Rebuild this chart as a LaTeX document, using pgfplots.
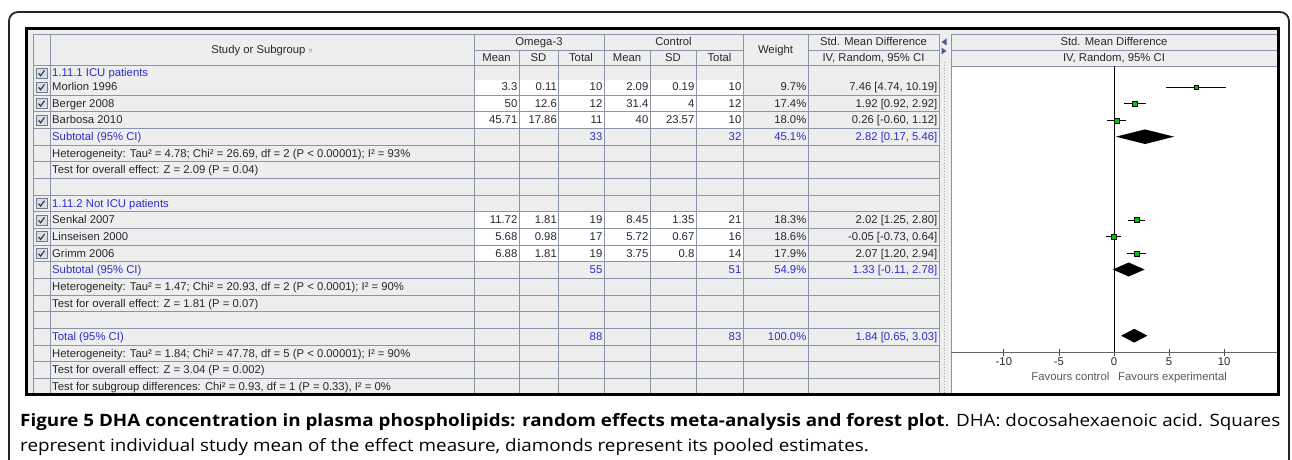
\documentclass[border=0pt]{standalone}
\usepackage{pgfplots}
\pgfplotsset{compat=1.18}
\usepackage{graphicx}
\usepackage{fontspec}
\setmainfont{Liberation Sans}
\newfontfamily\capfont{Open Sans}
\newfontfamily\dejavu{DejaVu Sans}
\definecolor{bg}{RGB}{238,238,238}
\definecolor{gridc}{RGB}{138,150,166}
\definecolor{txt}{RGB}{40,40,40}
\definecolor{blu}{RGB}{45,45,205}
\definecolor{grn}{RGB}{0,200,0}
\definecolor{cbfill}{RGB}{215,222,232}
\definecolor{cbdraw}{RGB}{110,125,145}
\definecolor{arr}{RGB}{70,95,140}
\newcommand{\drow}[9]{%
  \node[anchor=base east] at (517.5,#1) {#2};
  \node[anchor=base east] at (557,#1) {#3};
  \node[anchor=base east] at (602.5,#1) {#4};
  \node[anchor=base east] at (648.5,#1) {#5};
  \node[anchor=base east] at (694.5,#1) {#6};
  \node[anchor=base east] at (741.5,#1) {#7};
  \node[anchor=base east] at (806.5,#1) {#8};
  \node[anchor=base east] at (937.5,#1) {#9};}
\newcommand{\srow}[5]{%
  \node[anchor=base east, text=blu] at (602.5,#1) {#2};
  \node[anchor=base east, text=blu] at (741.5,#1) {#3};
  \node[anchor=base east, text=blu] at (806.5,#1) {#4};
  \node[anchor=base east, text=blu] at (937.5,#1) {#5};}
\newcommand{\lbl}[2]{\node[anchor=base west] at (52,#1) {#2};}
\newcommand{\blbl}[2]{\node[anchor=base west, text=blu] at (52,#1) {#2};}
\newcommand{\cbox}[1]{%
  \filldraw[fill=cbfill, draw=cbdraw, line width=0.6pt] (36,#1-5) rectangle (47,#1+5);
  \draw[line width=1.1pt, black!80] (38.6,#1+0.3) -- (40.6,#1+2.8) -- (44.4,#1-2.6);}
\newsavebox\capA
\newsavebox\capB
\begin{document}
\sbox\capA{\capfont\fontsize{17}{20}\selectfont\textbf{Figure 5 DHA concentration in plasma phospholipids: random effects meta-analysis and forest plot}. DHA: docosahexaenoic acid. Squares}%
\sbox\capB{\capfont\fontsize{17}{20}\selectfont represent individual study mean of the effect measure, diamonds represent its pooled estimates.}%
\pgfmathsetmacro\capr{1260/\the\wd\capA}%
\begin{tikzpicture}[x=1pt,y=-1pt,every node/.style={inner sep=0pt,font=\fontsize{11.3}{13}\selectfont,text=txt}]
\path[use as bounding box] (0,0) rectangle (1292,460);
\fill[white] (0,0) rectangle (1292,460);
% outer rounded frame
\draw[black!85, line width=1.8pt, rounded corners=9pt] (9,12) -- (1289,12) -- (1289,490) -- (9,490) -- cycle;
% screenshot background
\fill[bg] (26.5,28.5) rectangle (1278.5,394.5);
% white data cells
\fill[white] (474,80) rectangle (743,128.3);
\fill[white] (474,211.7) rectangle (743,261.7);
% forest plot white area
\fill[white] (951,66) rectangle (1277,394);
% grid lines
\begin{scope}[gridc, line width=0.8pt]
\foreach \yy in {34,65,95,111.7,128.3,145,161.7,178.3,195,211.7,228.3,245,261.7,278.3,295,311.7,328.3,345,361.7,378.3}
  \draw (33.5,\yy) -- (939,\yy);
\draw (474,50.7) -- (743,50.7);
\draw (808,50.7) -- (939,50.7);
\foreach \xx in {33.5,50.5,474,604,743,808,939} \draw (\xx,34) -- (\xx,394);
\foreach \xx in {519,558,650,696} \draw (\xx,50.7) -- (\xx,394);
\draw (951,34) -- (1277,34);
\draw (951,50.7) -- (1277,50.7);
\draw (951,66) -- (1277,66);
\draw (951,34) -- (951,394);
\draw (1277,34) -- (1277,394);
\end{scope}
% splitter strip
\draw[gray!70, line width=0.8pt, dotted] (944.5,62) -- (944.5,394);
\fill[arr] (946.5,38.5) -- (946.5,45.5) -- (941.5,42) -- cycle;
\fill[arr] (941.5,47.5) -- (941.5,54.5) -- (946.5,51) -- cycle;
% screenshot border
\draw[black, line width=3pt] (26.5,28.5) rectangle (1278.5,394.5);
% header texts
\node[anchor=base] at (262,53.9) {Study or Subgroup {\dejavu\fontsize{8}{8}\selectfont\color{gray}▿}};
\node[anchor=base] at (539,45.9) {Omega-3};
\node[anchor=base] at (673.5,45.9) {Control};
\node[anchor=base] at (496.5,61.9) {Mean};
\node[anchor=base] at (538.5,61.9) {SD};
\node[anchor=base] at (581,61.9) {Total};
\node[anchor=base] at (627,61.9) {Mean};
\node[anchor=base] at (673,61.9) {SD};
\node[anchor=base] at (719.5,61.9) {Total};
\node[anchor=base] at (775.5,53.9) {Weight};
\node[anchor=base] at (873.5,45.9) {Std. Mean Difference};
\node[anchor=base] at (873.5,61.9) {IV, Random, 95\% CI};
\node[anchor=base] at (1114,45.9) {Std. Mean Difference};
\node[anchor=base] at (1114,61.9) {IV, Random, 95\% CI};
% checkboxes
\cbox{73}\cbox{87}\cbox{103.3}\cbox{120}\cbox{203.3}\cbox{220}\cbox{236.7}\cbox{253.3}
% left labels
\blbl{76.9}{1.11.1 ICU patients}
\lbl{90.9}{Morlion 1996}
\lbl{107.2}{Berger 2008}
\lbl{123.9}{Barbosa 2010}
\blbl{140.6}{Subtotal (95\% CI)}
\lbl{157.2}{Heterogeneity: Tau² = 4.78; Chi² = 26.69, df = 2 (P < 0.00001); I² = 93\%}
\lbl{173.9}{Test for overall effect: Z = 2.09 (P = 0.04)}
\blbl{207.2}{1.11.2 Not ICU patients}
\lbl{223.9}{Senkal 2007}
\lbl{240.6}{Linseisen 2000}
\lbl{257.2}{Grimm 2006}
\blbl{273.9}{Subtotal (95\% CI)}
\lbl{290.6}{Heterogeneity: Tau² = 1.47; Chi² = 20.93, df = 2 (P < 0.0001); I² = 90\%}
\lbl{307.2}{Test for overall effect: Z = 1.81 (P = 0.07)}
\blbl{340.6}{Total (95\% CI)}
\lbl{357.2}{Heterogeneity: Tau² = 1.84; Chi² = 47.78, df = 5 (P < 0.00001); I² = 90\%}
\lbl{373.9}{Test for overall effect: Z = 3.04 (P = 0.002)}
\lbl{390.6}{Test for subgroup differences: Chi² = 0.93, df = 1 (P = 0.33), I² = 0\%}
% data rows
\drow{90.9}{3.3}{0.11}{10}{2.09}{0.19}{10}{9.7\%}{7.46 [4.74, 10.19]}
\drow{107.2}{50}{12.6}{12}{31.4}{4}{12}{17.4\%}{1.92 [0.92, 2.92]}
\drow{123.9}{45.71}{17.86}{11}{40}{23.57}{10}{18.0\%}{0.26 [-0.60, 1.12]}
\srow{140.6}{33}{32}{45.1\%}{2.82 [0.17, 5.46]}
\drow{223.9}{11.72}{1.81}{19}{8.45}{1.35}{21}{18.3\%}{2.02 [1.25, 2.80]}
\drow{240.6}{5.68}{0.98}{17}{5.72}{0.67}{16}{18.6\%}{-0.05 [-0.73, 0.64]}
\drow{257.2}{6.88}{1.81}{19}{3.75}{0.8}{14}{17.9\%}{2.07 [1.20, 2.94]}
\srow{273.9}{55}{51}{54.9\%}{1.33 [-0.11, 2.78]}
\srow{340.6}{88}{83}{100.0\%}{1.84 [0.65, 3.03]}
% forest plot
\begin{axis}[at={(951pt,-352pt)}, anchor=south west, scale only axis,
  width=326pt, height=286pt,
  xmin=-14.8, xmax=14.8, ymin=-352, ymax=-66,
  axis x line*=bottom, axis y line=none,
  x axis line style={-, draw=black!60, line width=0.9pt},
  xtick={-10,-5,0,5,10}, xticklabels={-10,-5,0,5,10},
  tick align=center, major tick length=7pt,
  tick style={draw=black!70, line width=0.8pt},
  xticklabel style={anchor=north, yshift=-2pt, text=txt, font=\fontsize{11.3}{13}\selectfont},
  clip=false]
\addplot[black, line width=0.8pt] coordinates {(0,-66) (0,-352)};
\addplot[black, line width=0.9pt, unbounded coords=jump] table {
x y
4.74 -87.3
10.19 -87.3
nan nan
0.92 -103.7
2.92 -103.7
nan nan
-0.60 -120.3
1.12 -120.3
nan nan
1.25 -220
2.80 -220
nan nan
-0.73 -236.7
0.64 -236.7
nan nan
1.20 -253.3
2.94 -253.3
};
\addplot[only marks, mark=square*, mark size=1.8pt, mark options={fill=grn, draw=none}] coordinates {(7.46,-87.3)};
\addplot[only marks, mark=square*, mark size=2.5pt, mark options={fill=grn, draw=none}] coordinates {(1.92,-103.7) (0.26,-120.3) (2.02,-220) (-0.05,-236.7) (2.07,-253.3)};
\addplot[fill=black, draw=none] coordinates {(0.17,-136.7) (2.82,-129.4) (5.46,-136.7) (2.82,-144.0)} -- cycle;
\addplot[fill=black, draw=none] coordinates {(-0.11,-269.5) (1.33,-262.5) (2.78,-269.5) (1.33,-276.5)} -- cycle;
\addplot[fill=black, draw=none] coordinates {(0.65,-335.7) (1.84,-328.8) (3.03,-335.7) (1.84,-342.6)} -- cycle;
\end{axis}
\node[anchor=base east, text=black!65] at (1109.5,380.6) {Favours control};
\node[anchor=base west, text=black!65] at (1118,380.6) {Favours experimental};
% caption
\node[anchor=base west, text=black!85] at (20,426.5) {\scalebox{\capr}[1]{\usebox\capA}};
\node[anchor=base west, text=black!85] at (20,451.5) {\scalebox{\capr}[1]{\usebox\capB}};
\end{tikzpicture}
\end{document}
